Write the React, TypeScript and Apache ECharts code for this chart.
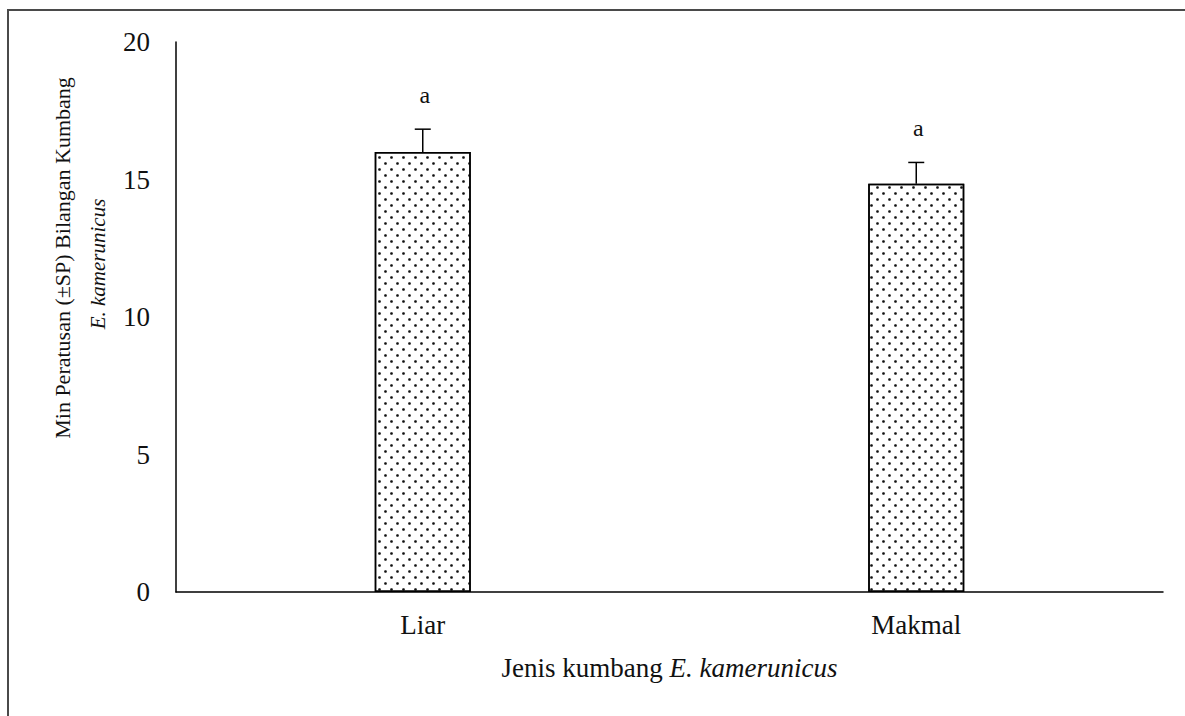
import React, { useEffect, useRef } from "react";
import * as echarts from "echarts";

const categories = ["Liar", "Makmal"];
const means = [16.0, 14.85];
const errors = [0.83, 0.77];
const letters = ["a", "a"];
const yMin = 0;
const yMax = 20;
const yInterval = 5;

const FONT = "'Liberation Serif', 'Times New Roman', serif";

export default function App() {
  const ref = useRef<HTMLDivElement>(null);
  useEffect(() => {
    const chart = echarts.init(ref.current as HTMLDivElement, null, { renderer: "svg" });
    const errData = categories.map((_, i) => [i, means[i], errors[i]]);
    chart.setOption({
      animation: false,
      aria: { enabled: true, decal: { show: true } },
      grid: { left: 176, right: 22, top: 42, bottom: 124 },
      xAxis: {
        type: "category",
        data: categories,
        axisLine: { lineStyle: { color: "#000", width: 1.5 } },
        axisTick: { show: false },
        axisLabel: { fontFamily: FONT, fontSize: 27, color: "#111", margin: 19 },
        name: "{n|Jenis kumbang }{i|E. kamerunicus}",
        nameLocation: "middle",
        nameGap: 62,
        nameTextStyle: {
          rich: {
            n: { fontFamily: FONT, fontSize: 27, color: "#111" },
            i: { fontFamily: FONT, fontSize: 27, fontStyle: "italic", color: "#111" },
          },
        },
      },
      yAxis: {
        type: "value",
        min: yMin,
        max: yMax,
        interval: yInterval,
        axisLine: { show: true, lineStyle: { color: "#000", width: 1.5 } },
        axisTick: { show: false },
        splitLine: { show: false },
        axisLabel: { fontFamily: FONT, fontSize: 27, color: "#111", margin: 26 },
      },
      series: [
        {
          type: "bar",
          data: means,
          barWidth: 96,
          itemStyle: {
            color: "#fff",
            borderColor: "#000",
            borderWidth: 1.5,
            decal: {
              symbol: "circle",
              symbolSize: 0.9,
              color: "#111",
              backgroundColor: null,
              dashArrayX: [
                [3, 9],
                [0, 6, 3, 3],
              ],
              dashArrayY: [3, 3],
              rotation: 0,
            },
          },
        },
        {
          type: "custom",
          data: errData,
          encode: { x: 0, y: 1 },
          z: 5,
          renderItem: (params: any, api: any) => {
            const i = api.value(0);
            const v = api.value(1);
            const e = api.value(2);
            const base = api.coord([i, v]);
            const top = api.coord([i, v + e]);
            const half = 8;
            const ls = { stroke: "#000", lineWidth: 1.5 };
            return {
              type: "group",
              children: [
                { type: "line", shape: { x1: top[0], y1: base[1], x2: top[0], y2: top[1] }, style: ls },
                { type: "line", shape: { x1: top[0] - half, y1: top[1], x2: top[0] + half, y2: top[1] }, style: ls },
                {
                  type: "text",
                  x: top[0] + 2,
                  y: top[1] - 34,
                  style: {
                    text: letters[params.dataIndex],
                    font: `24px ${FONT}`,
                    fill: "#111",
                    align: "center",
                    verticalAlign: "middle",
                  },
                },
              ],
            };
          },
        },
      ],
      graphic: [
        {
          type: "rect",
          shape: { x: 8, y: 10, width: 1200, height: 730 },
          style: { fill: "none", stroke: "#4a4a4a", lineWidth: 2 },
          silent: true,
        },
        {
          type: "text",
          x: 62,
          y: 258,
          rotation: Math.PI / 2,
          style: {
            text: "Min Peratusan (±SP) Bilangan Kumbang",
            font: `22px ${FONT}`,
            fill: "#111",
            align: "center",
            verticalAlign: "middle",
          },
        },
        {
          type: "text",
          x: 98,
          y: 264,
          rotation: Math.PI / 2,
          style: {
            text: "E. kamerunicus",
            font: `italic 21px ${FONT}`,
            fill: "#111",
            align: "center",
            verticalAlign: "middle",
          },
        },
      ],
    });
    return () => chart.dispose();
  }, []);
  return (
    <div
      ref={ref}
      style={{ position: "absolute", left: 0, top: 0, width: 1185, height: 716 }}
    />
  );
}
